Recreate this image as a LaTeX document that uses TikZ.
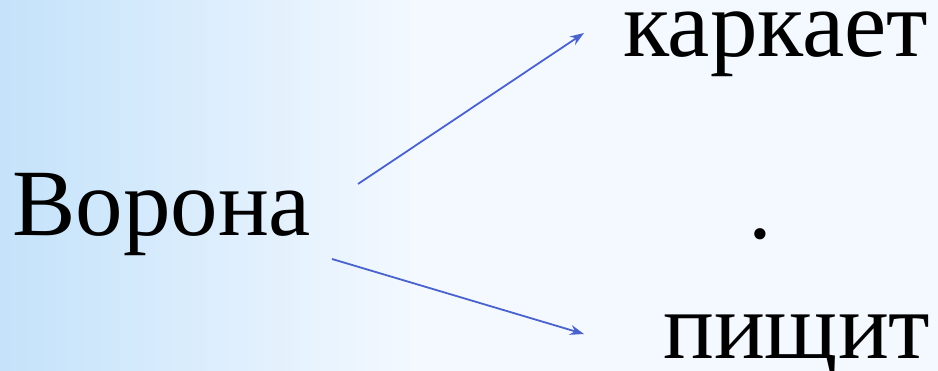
\documentclass[tikz,border=0pt]{standalone}
\usepackage{fontspec}
\setmainfont{Liberation Serif}
\newfontfamily\wordfont{Liberation Serif}
\usepackage{xcolor}
\usetikzlibrary{arrows.meta,positioning}
\definecolor{skyblue}{HTML}{C4E2FA}
\definecolor{paleblue}{HTML}{F4F9FF}
\definecolor{arrowblue}{HTML}{4A62CC}
\newcommand{\bigword}[1]{{\wordfont\fontsize{95}{95}\selectfont #1}}

\begin{document}
\begin{tikzpicture}[
  x=1pt, y=-1pt,
  >=Stealth,
  word/.style={anchor=base west, inner sep=0pt, text height=0.55em, text depth=0.1em},
  flow/.style={->, draw=arrowblue, line width=1.8pt, arrows={-Stealth[length=14pt, width=10pt]}}
]
  \useasboundingbox (0,0) rectangle (938,371);
  \fill[paleblue] (0,0) rectangle (938,371);
  \shade[left color=skyblue, right color=paleblue] (0,0) rectangle (420,371);
  \node[word, text height=0.7em] (crow) at (12,236) {\bigword{Ворона}};
  \node[word] (caw) at (623,57) {\bigword{каркает}};
  \node[word] (dot) at (748,239) {\bigword{.}};
  \node[word] (squeak) at (663,359) {\bigword{пищит}};
  \coordinate (upstart) at (358,184);
  \coordinate (upend) at (584,33);
  \coordinate (downstart) at (332,259);
  \coordinate (downend) at (584,334);
  \draw[flow] (upstart) -- (upend);
  \draw[flow] (downstart) -- (downend);
\end{tikzpicture}
\end{document}
